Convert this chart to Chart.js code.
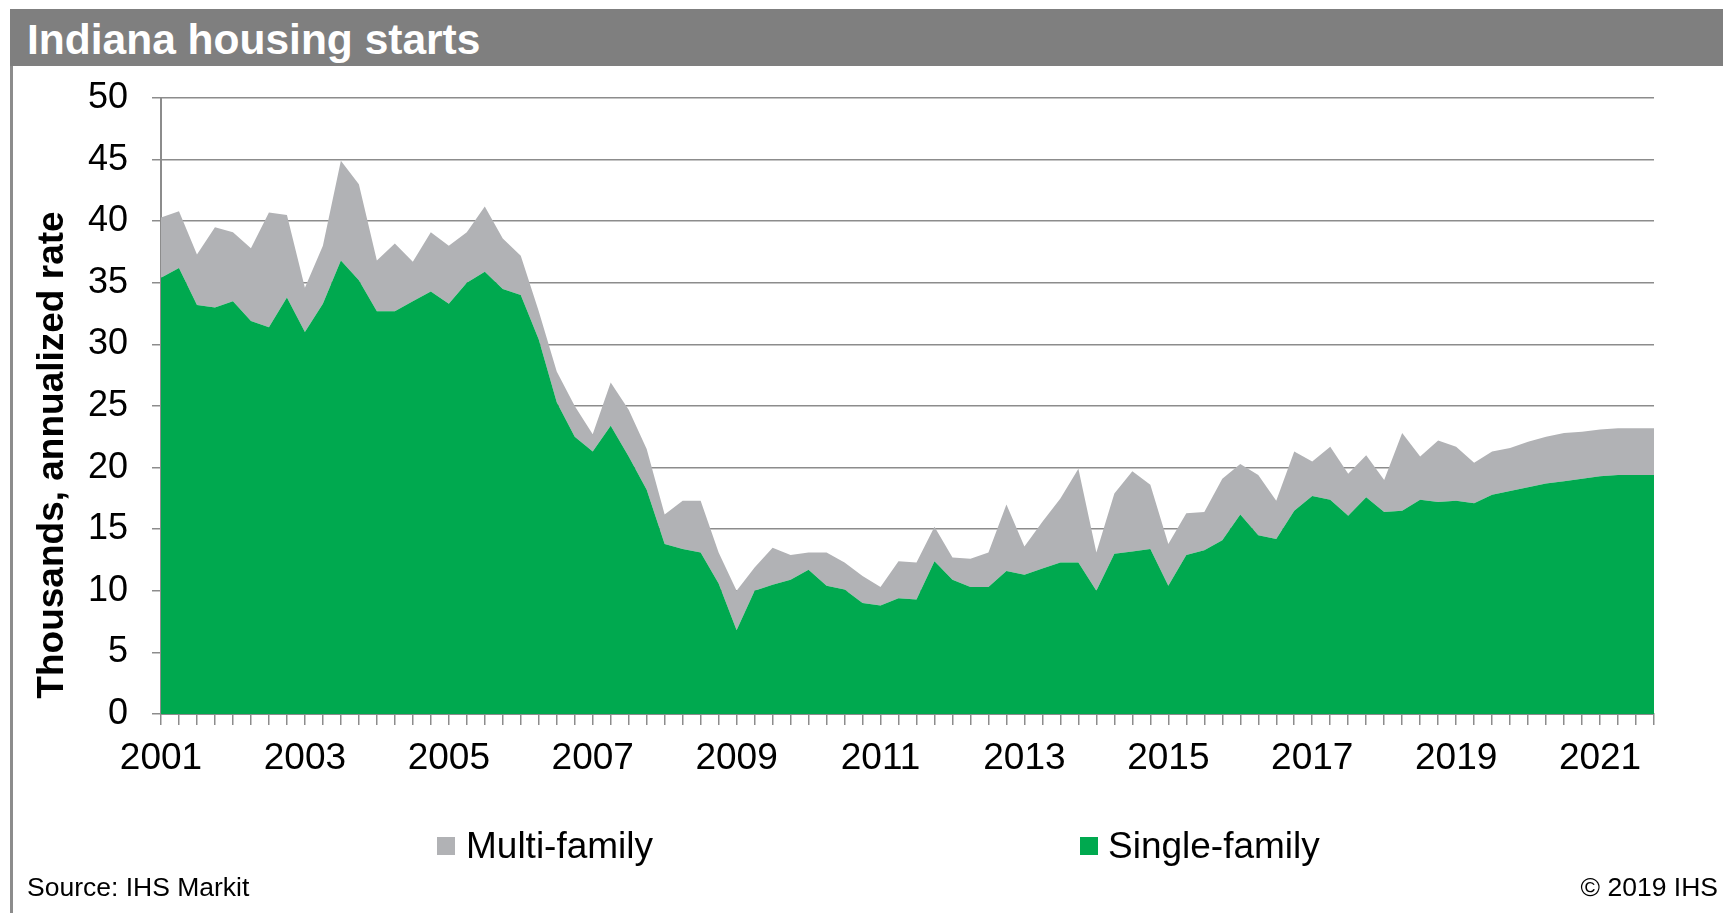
<!DOCTYPE html>
<html>
<head>
<meta charset="utf-8">
<script src="https://cdn.jsdelivr.net/npm/chart.js"></script>
<style>
html,body{margin:0;padding:0;background:#fff;}
body{width:1723px;height:913px;position:relative;overflow:hidden;font-family:"Liberation Sans",Arial,sans-serif;}
#bar{position:absolute;left:10px;top:9px;width:1713px;height:57px;background:#7f7f7f;}
#title{position:absolute;left:27px;top:19px;font-weight:bold;font-size:42.5px;line-height:42.5px;color:#fff;white-space:nowrap;}
#frame{position:absolute;left:10px;top:9px;width:3px;height:904px;background:#8c8c8c;}
canvas{position:absolute;left:0;top:0;}
.leg{position:absolute;top:827px;font-size:37px;line-height:37px;white-space:nowrap;color:#000;}
.sw{position:absolute;top:837px;width:18px;height:18px;}
.note{position:absolute;top:874px;font-size:26.5px;line-height:26.5px;color:#000;white-space:nowrap;}
</style>
</head>
<body>
<div id="frame"></div>
<div id="bar"></div>
<div id="title">Indiana housing starts</div>
<canvas id="c" width="1723" height="913" style="width:1723px;height:913px;"></canvas>
<div class="sw" style="left:437px;background:#b1b2b5;"></div>
<div class="leg" style="left:466px;">Multi-family</div>
<div class="sw" style="left:1080px;background:#00a94f;"></div>
<div class="leg" style="left:1108px;">Single-family</div>
<div class="note" style="left:27px;">Source: IHS Markit</div>
<div class="note" style="right:5px;">© 2019 IHS</div>
<script>
const categories = [
  '2001Q1','2001Q2','2001Q3','2001Q4','2002Q1','2002Q2','2002Q3','2002Q4',
  '2003Q1','2003Q2','2003Q3','2003Q4','2004Q1','2004Q2','2004Q3','2004Q4',
  '2005Q1','2005Q2','2005Q3','2005Q4','2006Q1','2006Q2','2006Q3','2006Q4',
  '2007Q1','2007Q2','2007Q3','2007Q4','2008Q1','2008Q2','2008Q3','2008Q4',
  '2009Q1','2009Q2','2009Q3','2009Q4','2010Q1','2010Q2','2010Q3','2010Q4',
  '2011Q1','2011Q2','2011Q3','2011Q4','2012Q1','2012Q2','2012Q3','2012Q4',
  '2013Q1','2013Q2','2013Q3','2013Q4','2014Q1','2014Q2','2014Q3','2014Q4',
  '2015Q1','2015Q2','2015Q3','2015Q4','2016Q1','2016Q2','2016Q3','2016Q4',
  '2017Q1','2017Q2','2017Q3','2017Q4','2018Q1','2018Q2','2018Q3','2018Q4',
  '2019Q1','2019Q2','2019Q3','2019Q4','2020Q1','2020Q2','2020Q3','2020Q4',
  '2021Q1','2021Q2','2021Q3','2021Q4'
];
const xTickLabels = ['2001','2003','2005','2007','2009','2011','2013','2015','2017','2019','2021'];
const yTicks = [0,5,10,15,20,25,30,35,40,45,50];
const singleFamily = [
  35.4, 36.2, 33.2, 33.0, 33.5, 31.9, 31.4, 33.8, 31.0, 33.3,
  36.8, 35.2, 32.7, 32.7, 33.5, 34.3, 33.3, 35.0, 35.9, 34.5,
  34.0, 30.4, 25.3, 22.5, 21.3, 23.4, 20.9, 18.2, 13.8, 13.4,
  13.1, 10.6, 6.8, 10.0, 10.5, 10.9, 11.7, 10.4, 10.1, 9.0,
  8.8, 9.4, 9.3, 12.4, 10.9, 10.3, 10.3, 11.6, 11.3, 11.8,
  12.3, 12.3, 10.0, 13.0, 13.2, 13.4, 10.4, 12.9, 13.3, 14.1,
  16.2, 14.5, 14.2, 16.5, 17.7, 17.4, 16.1, 17.6, 16.4, 16.5,
  17.4, 17.2, 17.3, 17.1, 17.8, 18.1, 18.4, 18.7, 18.9, 19.1,
  19.3, 19.4, 19.4, 19.4
];
const multiFamily = [
  4.9, 4.6, 4.1, 6.5, 5.6, 5.9, 9.3, 6.7, 3.6, 4.7,
  8.1, 7.8, 4.1, 5.5, 3.2, 4.8, 4.7, 4.1, 5.3, 4.1,
  3.2, 2.3, 2.5, 2.5, 1.4, 3.5, 3.8, 3.3, 2.4, 3.9,
  4.2, 2.5, 3.2, 1.9, 3.0, 2.0, 1.4, 2.7, 2.2, 2.2,
  1.5, 3.0, 3.0, 2.8, 1.8, 2.3, 2.8, 5.4, 2.3, 3.8,
  5.2, 7.6, 3.1, 4.9, 6.5, 5.2, 3.4, 3.4, 3.1, 5.0,
  4.1, 4.9, 3.1, 4.8, 2.8, 4.3, 3.4, 3.4, 2.6, 6.3,
  3.5, 5.0, 4.4, 3.3, 3.5, 3.5, 3.7, 3.8, 3.9, 3.8,
  3.8, 3.8, 3.8, 3.8
];
const yAxisTitle = 'Thousands, annualized rate';

const GREEN = '#00a94f';
const GRAY = '#b1b2b5';
const AXIS = '#8c8c8c';
const FONT = '"Liberation Sans", Arial, sans-serif';
Chart.defaults.font.family = FONT;

const yTitlePlugin = {
  id: 'yTitle',
  afterDraw(chart) {
    const ctx = chart.ctx;
    ctx.save();
    ctx.translate(62.5, 455);
    ctx.rotate(-Math.PI / 2);
    ctx.font = 'bold 37px ' + FONT;
    ctx.fillStyle = '#000';
    ctx.textAlign = 'center';
    ctx.textBaseline = 'alphabetic';
    ctx.fillText(yAxisTitle, 0, 0);
    ctx.restore();
  }
};

new Chart(document.getElementById('c'), {
  type: 'line',
  data: {
    labels: categories,
    datasets: [
      { label: 'Single-family', data: singleFamily, backgroundColor: GREEN, borderColor: 'rgba(0,0,0,0)', borderWidth: 0, pointRadius: 0, fill: 'origin', tension: 0 },
      { label: 'Multi-family', data: multiFamily, backgroundColor: GRAY, borderColor: 'rgba(0,0,0,0)', borderWidth: 0, pointRadius: 0, fill: '-1', tension: 0 }
    ]
  },
  options: {
    responsive: false,
    animation: false,
    devicePixelRatio: 1,
    layout: { padding: { left: 0, right: 69, top: 98, bottom: 0 } },
    plugins: { legend: { display: false }, tooltip: { enabled: false }, title: { display: false } },
    scales: {
      x: {
        type: 'category',
        offset: false,
        grid: { drawOnChartArea: false, drawTicks: true, tickLength: 11, color: AXIS, lineWidth: 1.5 },
        border: { display: true, color: AXIS, width: 2 },
        ticks: {
          autoSkip: false, maxRotation: 0, minRotation: 0, padding: 12, color: '#000',
          font: { size: 37 },
          callback: function(v, i) {
            const c = categories[i];
            const yr = c.slice(0, 4);
            return (c.endsWith('Q1') && xTickLabels.includes(yr)) ? yr : '';
          }
        },
        afterFit: function(s) { s.height = 199; }
      },
      y: {
        stacked: true,
        min: yTicks[0], max: yTicks[yTicks.length - 1],
        afterBuildTicks: function(s) { s.ticks = yTicks.map(v => ({ value: v })); },
        grid: { color: AXIS, lineWidth: 1.5, tickLength: 9 },
        border: { display: true, color: AXIS, width: 2 },
        ticks: { padding: 24, color: '#000', font: { size: 36 } },
        afterFit: function(s) { s.width = 161; }
      }
    }
  },
  plugins: [yTitlePlugin]
});
</script>
</body>
</html>
